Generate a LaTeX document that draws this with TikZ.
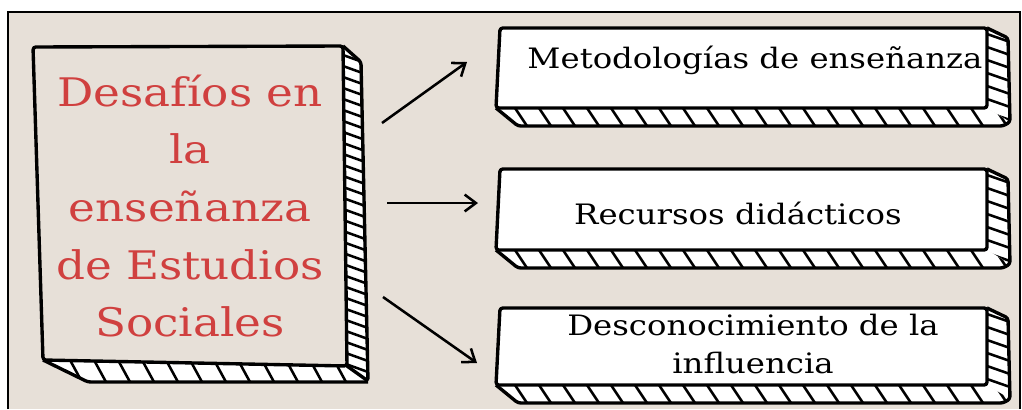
\documentclass[tikz,border=0pt]{standalone}
\usepackage{fontspec}
\newfontfamily\slabfont[FakeStretch=1.15]{DejaVu Serif}
\usetikzlibrary{arrows.meta}
\definecolor{paper}{HTML}{E7E0D8}
\definecolor{chalkred}{HTML}{D0403F}
\tikzset{
  outline/.style={line width=2.4pt, line join=round, rounded corners=2pt},
  stripe/.style={line width=1.8pt},
  pointer/.style={line width=1.8pt, -{Straight Barb[length=8pt,width=12pt]}},
  title/.style={text=chalkred, align=center, font=\slabfont\fontsize{28}{41}\selectfont},
  label/.style={align=center, font=\slabfont\fontsize{20}{27.5}\selectfont}
}
\begin{document}
\begin{tikzpicture}[x=0.025cm, y=-0.025cm]
    % Page and paper background with its frame
    \useasboundingbox (0,0) rectangle (1022,409);
    \fill[white] (0,0) rectangle (1022,409);
    \fill[paper] (8,12) rectangle (1020,409);
    \draw[line width=0.8pt] (8,409) -- (8,12) -- (1020,12) -- (1020,409);

    % Main block: striped side and bottom faces
    \begin{scope}
        \clip (343,46) -- (361,62) -- (368,381) -- (347,366) -- cycle;
        \fill[white] (340,40) rectangle (370,385);
        \foreach \y in {44,55,...,380}
            \draw[stripe] (343,\y) -- ++(25,9);
    \end{scope}
    \begin{scope}
        \clip (43,360) -- (88,382) -- (368,382) -- (347,366) -- cycle;
        \fill[white] (40,355) rectangle (370,385);
        \foreach \x in {70,94,...,360}
            \draw[stripe] (\x,360) -- ++(12,22);
    \end{scope}
    \draw[outline] (343,46) -- (361,62) -- (368,381) -- (347,366);
    \draw[outline] (43,360) -- (88,382) -- (368,382);
    \draw[outline] (33,47) -- (343,46) -- (347,366) -- (43,360) -- cycle;

    % Right blocks, one per challenge
    \foreach \yt/\yb in {28/108, 169/250, 308/385} {
        \begin{scope}
            \clip (987,\yt) -- (1008,\yt+10) -- (1010,\yb+14) -- (987,\yb) -- cycle;
            \fill[white] (980,\yt) rectangle (1015,\yb+20);
            \foreach \s in {0,...,7}
                \draw[stripe] (987,\yt+6+\s*13) -- ++(23,8);
        \end{scope}
        \begin{scope}
            \clip (496,\yb) -- (518,\yb+18) -- (1003,\yb+18) -- (1010,\yb+14) -- (987,\yb) -- cycle;
            \fill[white] (490,\yb) rectangle (1015,\yb+20);
            \foreach \s in {0,...,20}
                \draw[stripe] (515+\s*24,\yb) -- ++(12,18);
        \end{scope}
        \draw[outline] (987,\yt) -- (1008,\yt+10) -- (1010,\yb+14) -- (1003,\yb+18) -- (518,\yb+18) -- (496,\yb);
        \draw[outline, fill=white] (500,\yt) -- (987,\yt) -- (987,\yb) -- (496,\yb) -- cycle;
    }

    % Texts
    \node[title] (desafios) at (190,206) {Desafíos en\\la\\enseñanza\\de Estudios\\Sociales};
    \node[label] (metodo) at (755,60) {Metodologías de enseñanza};
    \node[label] (recursos) at (738,213) {Recursos didácticos};
    \node[label] (descono) at (753,344) {Desconocimiento de la\\influencia};

    % Arrow ends
    \coordinate (a1) at (382,123);
    \coordinate (b1) at (467,62);
    \coordinate (a2) at (387,203);
    \coordinate (b2) at (478,203);
    \coordinate (a3) at (383,297);
    \coordinate (b3) at (477,363);

    % Arrows from the main block to the three blocks
    \draw[pointer] (a1) -- (b1);
    \draw[pointer] (a2) -- (b2);
    \draw[pointer] (a3) -- (b3);

\end{tikzpicture}
\end{document}
